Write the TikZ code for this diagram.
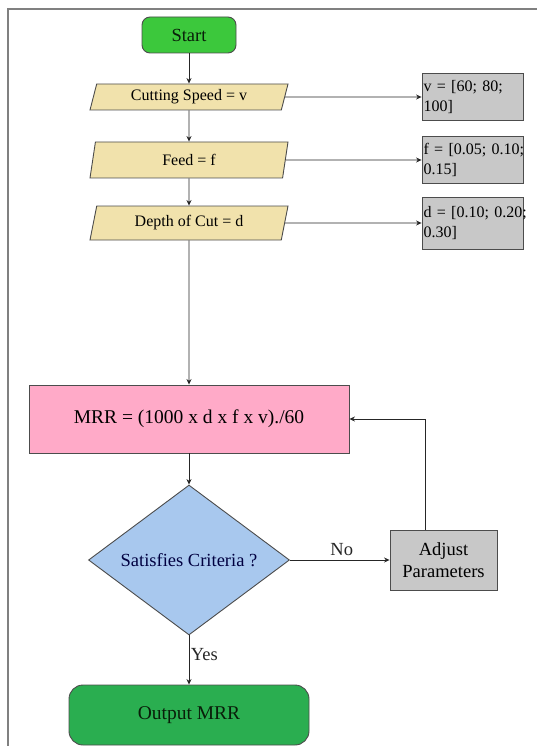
\documentclass[tikz,border=0pt]{standalone}
\usepackage{fontspec}
\setmainfont{Liberation Serif}
\usetikzlibrary{shapes.geometric,arrows.meta,positioning}
\definecolor{startgreen}{HTML}{3CC83C}
\definecolor{outgreen}{HTML}{2AAE50}
\definecolor{iobeige}{HTML}{F1E2AC}
\definecolor{boxgray}{HTML}{C8C8C8}
\definecolor{mrrpink}{HTML}{FFAAC8}
\definecolor{decblue}{HTML}{A8C8EE}
\tikzset{
  shape border/.style={draw=black!70, line width=0.9pt},
  term/.style={shape border, rounded corners=8pt, text=startgreen!15!black, font=\fontsize{18.5}{22}\selectfont},
  io/.style={shape border, trapezium, trapezium left angle=68, trapezium right angle=112, trapezium stretches body, fill=iobeige, minimum width=198pt, inner sep=1pt, font=\fontsize{16}{19}\selectfont},
  valbox/.style={shape border, rectangle, fill=boxgray, text width=98pt, align=left, inner xsep=1.5pt, inner ysep=2pt, minimum height=47pt, font=\fontsize{16}{20}\selectfont},
  proc/.style={shape border, rectangle, fill=mrrpink, minimum width=320pt, minimum height=68pt, font=\fontsize{19.5}{22}\selectfont},
  decide/.style={shape border, diamond, fill=decblue, minimum width=201pt, minimum height=130pt, inner sep=0pt, text=blue!25!black, font=\fontsize{18.5}{22}\selectfont},
  adjbox/.style={shape border, rectangle, fill=boxgray, minimum width=107pt, minimum height=60pt, align=center, font=\fontsize{18.5}{22}\selectfont},
  flow/.style={-{Stealth[length=5.5pt,width=5pt]}, line width=0.8pt, black!85},
  lbl/.style={inner sep=1.5pt, font=\fontsize{18.5}{22}\selectfont}
}
\begin{document}
\begin{tikzpicture}[x=1pt,y=-1pt]
  \useasboundingbox (0,0) rectangle (537,746);
  \draw[black!50, line width=2pt] (7.5,746) -- (7.5,9) -- (537,9);

  \node[term, fill=startgreen, minimum width=94pt, minimum height=36pt] (start) at (189,35) {Start};
  \node[io, minimum height=26pt] (speed) at (189,97) {Cutting Speed = v};
  \node[io, minimum height=36pt] (feed) at (189,160) {Feed = f};
  \node[io, minimum height=34pt] (depth) at (189,223) {Depth of Cut = d};

  \node[valbox] (vbox) at (472.5,97) {\mbox{v = [60; 80;}\\\mbox{100]}};
  \node[valbox] (fbox) at (472.5,160) {\mbox{f = [0.05; 0.10;}\\\mbox{0.15]}};
  \node[valbox, minimum height=52pt] (dbox) at (472.5,223) {\mbox{d = [0.10; 0.20;}\\\mbox{0.30]}};

  \node[proc] (mrr) at (189,419) {MRR = (1000 x d x f x v)./60};
  \node[decide] (dec) at (189,560) {Satisfies Criteria ?};
  \node[adjbox] (adjust) at (443.5,560) {Adjust\\Parameters};
  \node[term, fill=outgreen, rounded corners=14pt, minimum width=240pt, minimum height=60pt, font=\fontsize{19.5}{22}\selectfont] (out) at (189,715) {Output MRR};
  \coordinate (up) at ([xshift=36pt]adjust.north west);

  \draw[flow] (start) -- (speed);
  \draw[flow] (speed) -- (feed);
  \draw[flow] (feed) -- (depth);
  \draw[flow] (depth) -- (mrr);
  \draw[flow] (speed) -- (vbox);
  \draw[flow] (feed) -- (fbox);
  \draw[flow] (depth) -- (dbox);
  \draw[flow] (mrr) -- (dec);
  \draw[flow] (dec) -- node[lbl, above, pos=0.52, yshift=2pt] {No} (adjust);
  \draw[flow] (up) |- (mrr);
  \draw[flow] (dec) -- node[lbl, right, pos=0.38] {Yes} (out);
\end{tikzpicture}
\end{document}
